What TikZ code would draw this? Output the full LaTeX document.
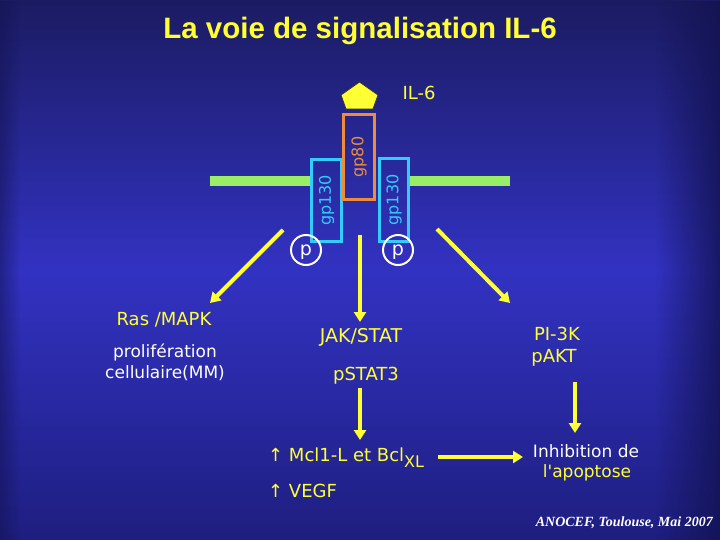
\documentclass[tikz,border=0pt]{standalone}
\usepackage{fontspec}
\usetikzlibrary{arrows.meta,fadings}
\newfontfamily\comicf{DejaVu Sans}
\newfontfamily\titlef{Liberation Sans}
\newfontfamily\timesf{Liberation Serif}
\definecolor{bgtop}{HTML}{1B1B62}
\definecolor{bgmid}{HTML}{3232C2}
\definecolor{bgbot}{HTML}{1E1E80}
\definecolor{bgedge}{HTML}{121250}
\definecolor{ylw}{HTML}{FFFF33}
\definecolor{memb}{HTML}{99EE66}
\definecolor{cyanb}{HTML}{33CCFF}
\definecolor{orng}{HTML}{EE8C3A}
\tikzfading[name=fadetoright, left color=transparent!100, right color=transparent!0]
\tikzfading[name=fadetoleft, left color=transparent!0, right color=transparent!100]
\begin{document}
\begin{tikzpicture}[x=1pt,y=-1pt,
  ytext/.style={text=ylw, font=\comicf\fontsize{18}{20}\selectfont, inner sep=0pt},
  wtext/.style={text=white, font=\comicf\fontsize{17}{20}\selectfont, inner sep=0pt},
  flow/.style={draw=ylw, line width=4pt, -{Triangle[length=10pt,width=12pt]}},
  gpbox/.style={draw=cyanb, line width=3pt, rectangle, inner sep=0pt, text=cyanb,
                font=\comicf\fontsize{16}{16}\selectfont, rotate=90},
  pcirc/.style={circle, draw=white, line width=2pt, minimum size=30pt, inner sep=0pt},
  ptext/.style={text=white, inner sep=0pt, anchor=base, font=\comicf\fontsize{19}{19}\selectfont}]
\useasboundingbox (0,0) rectangle (720,540);
% background
\shade[top color=bgtop, bottom color=bgbot, middle color=bgmid] (0,0) rectangle (720,540);
\fill[bgedge, path fading=fadetoright, fill opacity=0.8] (655,0) rectangle (720,540);
\fill[bgedge, path fading=fadetoleft, fill opacity=0.5] (0,0) rectangle (20,540);
% title
\node[anchor=base, text=ylw, font=\titlef\bfseries\fontsize{29.5}{32}\selectfont] (title) at (360,39) {La voie de signalisation IL-6};
% membrane
\fill[memb] (210,176.5) rectangle (311,186);
\fill[memb] (409,176.5) rectangle (510,186);
% receptor boxes
\node[gpbox, minimum width=82pt, minimum height=30pt] (gpL) at (326.5,200.5) {gp130};
\node[gpbox, minimum width=83pt, minimum height=29pt] (gpR) at (394,200) {gp130};
\node[gpbox, draw=orng, text=orng, minimum width=85pt, minimum height=31pt] (gp80) at (359,157) {gp80};
% IL-6 ligand
\filldraw[fill=ylw, draw=black!80, line width=0.8pt] (359.5,82) -- (378,95) -- (373,109) -- (346,109) -- (341,95) -- cycle;
\node[ytext, anchor=base] (il6) at (419,100) {IL-6};
% phosphorylation
\node[pcirc] (pL) at (306,250) {};
\node[pcirc] (pR) at (398,250) {};
\node[ptext] (pLt) at (306,255) {p};
\node[ptext] (pRt) at (398,255) {p};
% arrows
\coordinate (aLs) at (283,230); \coordinate (aLe) at (210,303);
\coordinate (aCs) at (360,235); \coordinate (aCe) at (360,322);
\coordinate (aRs) at (437,229); \coordinate (aRe) at (510,303);
\coordinate (aSs) at (360,388); \coordinate (aSe) at (360,440);
\coordinate (aHs) at (438,457); \coordinate (aHe) at (523,457);
\coordinate (aPs) at (575,382); \coordinate (aPe) at (575,433);
\draw[flow] (aLs) -- (aLe);
\draw[flow] (aCs) -- (aCe);
\draw[flow] (aRs) -- (aRe);
\draw[flow] (aSs) -- (aSe);
\draw[flow] (aHs) -- (aHe);
\draw[flow] (aPs) -- (aPe);
% left branch
\node[ytext, anchor=base] (ras) at (164,325) {Ras /MAPK};
\node[wtext, anchor=base] (prolif) at (165,357) {prolifération};
\node[wtext, anchor=base] (cell) at (165,378) {cellulaire(MM)};
% centre branch
\node[ytext, font=\comicf\fontsize{19}{20}\selectfont, anchor=base] (jak) at (361,342) {JAK/STAT};
\node[ytext, anchor=base] (pstat) at (366,380) {pSTAT3};
\node[ytext, anchor=base west] (mcl) at (268,461) {↑ Mcl1-L et Bcl\raisebox{-6pt}{\fontsize{16}{16}\selectfont XL}};
\node[ytext, anchor=base west] (vegf) at (268,497) {↑ VEGF};
% right branch
\node[ytext, anchor=base] (pi3k) at (557,340) {PI-3K};
\node[ytext, anchor=base] (pakt) at (554,362) {pAKT};
\node[wtext, anchor=base] (inhib) at (586,457) {Inhibition de};
\node[ytext, font=\comicf\fontsize{17}{20}\selectfont, anchor=base] (apop) at (587,477) {l'apoptose};
% credit
\node[anchor=base east, text=white, inner sep=0pt, font=\timesf\bfseries\itshape\fontsize{14}{14}\selectfont] (credit) at (713,526) {ANOCEF, Toulouse, Mai 2007};
\end{tikzpicture}
\end{document}
